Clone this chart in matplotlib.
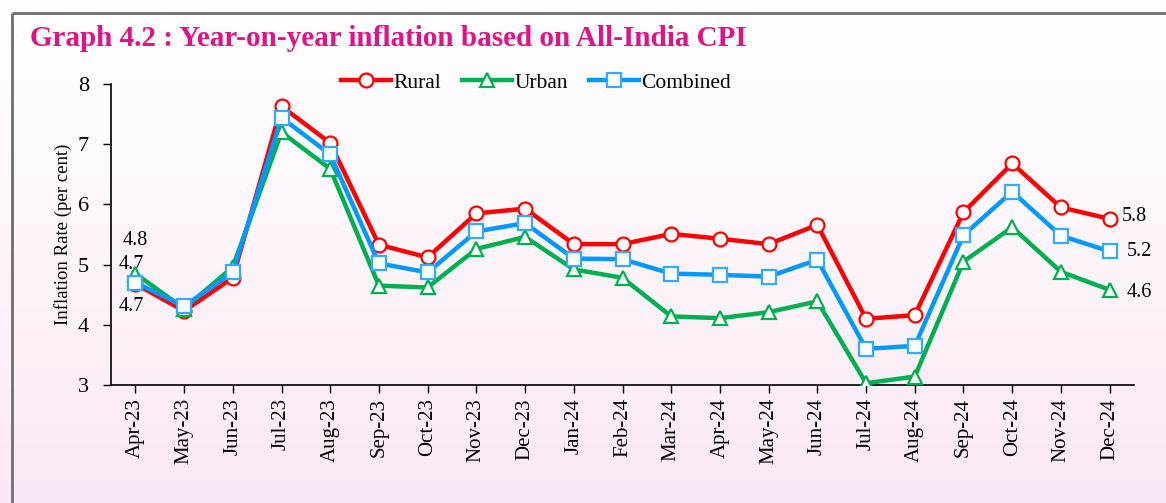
import matplotlib
matplotlib.use("Agg")
import matplotlib.pyplot as plt
import numpy as np
from matplotlib.colors import LinearSegmentedColormap

months = ["Apr-23", "May-23", "Jun-23", "Jul-23", "Aug-23", "Sep-23", "Oct-23",
          "Nov-23", "Dec-23", "Jan-24", "Feb-24", "Mar-24", "Apr-24", "May-24",
          "Jun-24", "Jul-24", "Aug-24", "Sep-24", "Oct-24", "Nov-24", "Dec-24"]
rural = [4.68, 4.23, 4.78, 7.63, 7.02, 5.33, 5.12, 5.85, 5.93, 5.34, 5.34,
         5.51, 5.43, 5.34, 5.66, 4.10, 4.16, 5.87, 6.68, 5.95, 5.76]
urban = [4.85, 4.27, 4.96, 7.20, 6.59, 4.65, 4.62, 5.26, 5.46, 4.92, 4.78,
         4.14, 4.11, 4.21, 4.39, 3.03, 3.14, 5.05, 5.62, 4.88, 4.58]
combined = [4.70, 4.31, 4.87, 7.44, 6.83, 5.02, 4.87, 5.55, 5.69, 5.10, 5.09,
            4.85, 4.83, 4.80, 5.08, 3.60, 3.65, 5.49, 6.21, 5.48, 5.22]
yticks = [3, 4, 5, 6, 7, 8]

plt.rcParams['font.family'] = ['Liberation Serif', 'DejaVu Serif']

W, H = 1166, 503
fig = plt.figure(figsize=(W / 100, H / 100), dpi=100)

# background gradient
bg = fig.add_axes([0, 0, 1, 1], zorder=-10)
grad = np.linspace(0, 1, 256).reshape(-1, 1)
cmap = LinearSegmentedColormap.from_list("bg", ["#FFFFFF", "#FDF5FA", "#FBE8F6"])
bg.imshow(grad, aspect='auto', cmap=cmap, extent=[0, 1, 0, 1], origin='upper')
bg.set_xlim(0, 1); bg.set_ylim(0, 1)
bg.axis('off')
# border lines (left and top)
bg.plot([12 / W, 12 / W], [0, 1 - 13 / H], color='#6E6E6E', lw=2, solid_capstyle='butt')
bg.plot([12 / W, 1], [1 - 13 / H, 1 - 13 / H], color='#6E6E6E', lw=2, solid_capstyle='butt')

fig.text(30 / W, 1 - 38 / H, "Graph 4.2 : Year-on-year inflation based on All-India CPI",
         fontsize=21, fontweight='bold', color='#E0128A', va='center', ha='left')

ax = fig.add_axes([111 / W, 1 - 385 / H, (1134 - 111) / W, (385 - 84) / H])
ax.patch.set_alpha(0)
x = np.arange(len(months))

ax.plot(x, rural, color='#FF0000', lw=3.2, marker='o', ms=10, mfc='white',
        mec='#FF0000', mew=1.6, label='Rural', zorder=3)
ax.plot(x, urban, color='#00B050', lw=3.2, marker='^', ms=10, mfc='white',
        mec='#00B050', mew=1.6, label='Urban', zorder=4)
ax.plot(x, combined, color='#0099FF', lw=3.2, marker='s', ms=10, mfc='white',
        mec='#33AAFF', mew=1.6, label='Combined', zorder=5)

ax.set_xlim(-0.5, len(months) - 0.5)
ax.set_ylim(3, 8)
ax.set_yticks(yticks)
ax.set_yticklabels([str(v) for v in yticks], fontsize=16)
ax.set_xticks(x)
ax.set_xticklabels(months, rotation=90, fontsize=15)
ax.tick_params(axis='both', direction='out', length=6, width=1, colors='black')
ax.tick_params(axis='y', pad=10)
for s in ['top', 'right']:
    ax.spines[s].set_visible(False)
for s in ['left', 'bottom']:
    ax.spines[s].set_linewidth(1.2)
ax.set_ylabel("Inflation Rate (per cent)", fontsize=13.5)
ax.yaxis.set_label_coords(-0.038, 0.5)

# data labels
fs = 14.5
ax.annotate(f"{urban[0]:.1f}", (0, urban[0]), xytext=(0, 24), textcoords='offset points',
            fontsize=fs, ha='center', va='center')
ax.annotate(f"{combined[0]:.1f}", (0, combined[0]), xytext=(-3, 13), textcoords='offset points',
            fontsize=fs, ha='center', va='center')
ax.annotate(f"{rural[0]:.1f}", (0, rural[0]), xytext=(-3, -16), textcoords='offset points',
            fontsize=fs, ha='center', va='center')
n = len(months) - 1
ax.annotate(f"{rural[n]:.1f}", (n, rural[n]), xytext=(9, 2), textcoords='offset points',
            fontsize=fs, ha='left', va='center')
ax.annotate(f"{combined[n]:.1f}", (n, combined[n]), xytext=(12, 0), textcoords='offset points',
            fontsize=fs, ha='left', va='center')
ax.annotate(f"{urban[n]:.1f}", (n, urban[n]), xytext=(12, -2), textcoords='offset points',
            fontsize=fs, ha='left', va='center')

leg = ax.legend(loc='center', bbox_to_anchor=(425 / 1023, 1.005), ncol=3, frameon=False,
                fontsize=15.5, handlelength=2.3, handletextpad=0.1, columnspacing=1.0)

fig.savefig("out.png", dpi=100)
